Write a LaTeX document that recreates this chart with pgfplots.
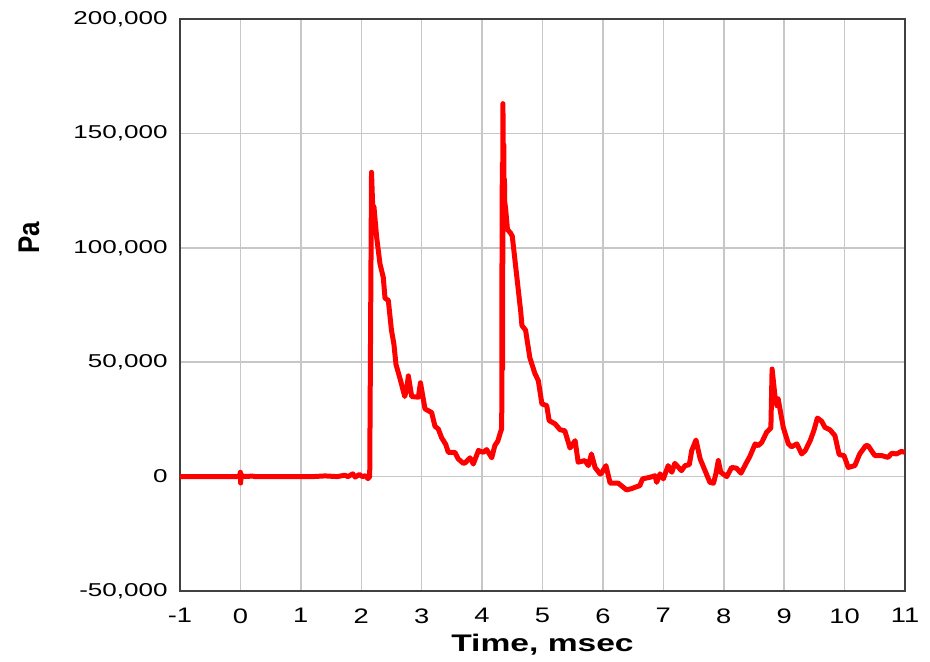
\documentclass[border=0pt]{standalone}
\usepackage{graphicx}
\usepackage{pgfplots}
\pgfplotsset{compat=1.18}
\usepackage{fontspec}
\setmainfont{Liberation Sans}
\newfontfamily\ytickfont[FakeStretch=1.4]{Liberation Sans}
\newfontfamily\xtickfont[FakeStretch=1.3]{Liberation Sans}
\newfontfamily\labfont[FakeStretch=1.4]{Liberation Sans}
\newfontfamily\ylabfont{Liberation Sans}
\pgfplotstableread{
t y
-1 0
-0.02 0
0 1900
0.004 -2800
0.01 1200
0.02 0
0.2 200
0.25 0
1.2 0
1.4 300
1.6 0
1.73 600
1.78 0
1.86 1200
1.9 -200
1.97 900
2.02 0
2.07 400
2.11 -900
2.14 0
2.17 133000
2.20 110000
2.21 118000
2.255 104600
2.31 93000
2.365 87000
2.393 78000
2.448 77000
2.50 64000
2.54 58000
2.575 49000
2.64 43000
2.72 35000
2.75 38000
2.78 44000
2.835 35000
2.945 34700
2.98 41000
3.055 29600
3.165 28000
3.22 22000
3.275 20800
3.33 17000
3.40 14000
3.44 10600
3.55 10600
3.606 7700
3.69 5800
3.72 6000
3.80 8200
3.855 5500
3.94 11400
4.02 10600
4.075 11800
4.16 8200
4.21 13500
4.26 15500
4.30 19000
4.325 21000
4.33 100000
4.335 137000
4.34 47000
4.345 163000
4.355 125000
4.36 145000
4.365 110000
4.37 130000
4.375 120000
4.39 117000
4.42 108000
4.47 106500
4.50 105000
4.64 72000
4.66 66000
4.72 64000
4.79 52000
4.875 45000
4.93 42000
4.99 31800
5.07 31000
5.11 24500
5.21 23000
5.29 20500
5.37 20000
5.455 12500
5.54 15700
5.59 6300
5.70 7000
5.76 4800
5.81 9900
5.87 4000
5.95 1200
5.97 1200
6.05 4800
6.12 -2900
6.255 -2900
6.39 -5800
6.47 -5300
6.56 -4400
6.61 -4000
6.655 -1000
6.78 -300
6.86 400
6.89 -2500
6.945 1200
7.0 -1000
7.08 4800
7.14 1900
7.19 5800
7.30 2600
7.36 4800
7.43 5200
7.47 11400
7.54 16000
7.61 7700
7.69 2600
7.77 -2500
7.83 -2900
7.87 1200
7.91 7000
7.95 1900
8.05 0
8.13 4000
8.21 3700
8.285 1500
8.38 6300
8.43 8700
8.52 14300
8.57 13500
8.63 15000
8.71 19400
8.78 21300
8.80 47000
8.85 34700
8.88 31000
8.90 34000
8.985 21500
9.07 14300
9.12 13000
9.21 14300
9.29 9900
9.35 11400
9.43 15700
9.49 20000
9.55 25600
9.62 24200
9.675 21500
9.76 20400
9.84 17900
9.91 9600
9.99 9200
10.06 4000
10.17 4800
10.25 9900
10.35 13500
10.39 13500
10.50 9200
10.61 9200
10.72 8400
10.78 10200
10.86 9900
10.94 11000
11.0 10600
}\pressure
\begin{document}
\begin{tikzpicture}
\useasboundingbox (-90pt,-35.5pt) rectangle (375pt,295.5pt);
\begin{axis}[
  width=362.5pt, height=286pt, scale only axis,
  xmin=-1, xmax=11, ymin=-50000, ymax=200000,
  scaled x ticks=false, scaled y ticks=false,
  xtick={-1,0,...,11},
  xticklabels={-1,0,1,2,3,4,5,6,7,8,9,10,11},
  ytick={-50000,0,50000,100000,150000,200000},
  yticklabels={{-50,000},{0},{50,000},{100,000},{150,000},{200,000}},
  grid=major,
  major grid style={color=black!22, line width=0.75pt},
  axis line style={color=black!75, line width=0.75pt},
  major tick length=0pt,
  yticklabel style={font=\ytickfont\fontsize{9.3}{10}\selectfont, anchor=east, inner sep=0pt, xshift=-6pt},
  xticklabel style={font=\xtickfont\fontsize{10.5}{11}\selectfont, anchor=north, inner sep=0pt, yshift=-8.5pt},
  xlabel={Time, msec},
  ylabel={\scalebox{1}[1.15]{Pa}},
  xlabel style={font=\labfont\bfseries\fontsize{12}{13}\selectfont, at={(axis description cs:0.5,-0.0752)}, anchor=north, inner sep=0pt},
  ylabel style={font=\ylabfont\bfseries\fontsize{13}{14}\selectfont, at={(axis description cs:-0.2083,0.617)}, anchor=center, inner sep=0pt},
  clip=true,
]
\addplot[color=red, line width=2.5pt, line join=round, line cap=round] table[x=t, y=y] {\pressure};
\end{axis}
\end{tikzpicture}
\end{document}
